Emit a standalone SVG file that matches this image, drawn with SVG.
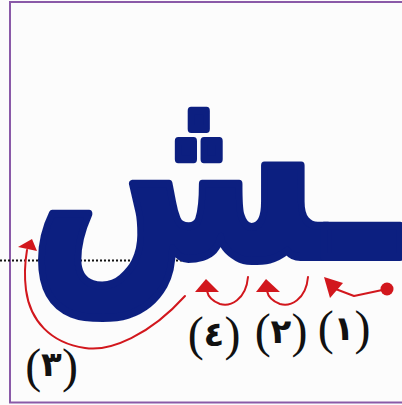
<svg xmlns="http://www.w3.org/2000/svg" width="402" height="405" viewBox="0 0 402 405">
<style>
.arr{fill:none;stroke:#d2171d;stroke-width:2;stroke-linecap:round;stroke-linejoin:round}
.head{fill:#d2171d}
.lbl{font-family:"Liberation Serif","Times New Roman",serif;font-size:48px;fill:#111;text-anchor:middle}
.dg{font-family:"DejaVu Sans",sans-serif;font-size:34px;font-weight:bold}
.letter{font-family:"DejaVu Sans",sans-serif;font-weight:bold;fill:#0c1f80;stroke:#0c1f80;stroke-width:8;stroke-linejoin:round}
</style>
<rect x="0" y="0" width="402" height="405" fill="#fcfcfc"/>
<rect x="10" y="2" width="420" height="400.5" fill="none" stroke="#8a5aa8" stroke-width="2"/>
<line x1="0" y1="260.5" x2="200" y2="260.5" stroke="#111" stroke-width="2" stroke-dasharray="2 2"/>
<g id="letter">
<text class="letter" x="28" y="257" font-size="250" textLength="370" lengthAdjust="spacingAndGlyphs">ـش</text>
</g>
<g id="connectors">
<circle cx="387" cy="289" r="6.5" class="head"/>
<polyline class="arr" points="387,289 354,296 333,288"/>
<polygon class="head" points="324,277 343,283 330,298"/>
<path class="arr" d="M308,277 C306,300 290,307 280,304 C272,301 268,296 267,291"/>
<polygon class="head" points="256,292 266,279 280,292"/>
<path class="arr" d="M248,277 C246,300 230,307 220,304 C212,301 208,296 207,291"/>
<polygon class="head" points="195,292 206,279 219,292"/>
<path class="arr" d="M185,296 C150,335 110,352 85,348 C50,343 30,320 26,290 C24,275 25,262 27,250"/>
<polygon class="head" points="18,247 32,239 37,251"/>
</g>
<g id="labels">
<text class="lbl" x="344" y="344">(<tspan class="dg" dy="-4">١</tspan><tspan dy="4">)</tspan></text>
<text class="lbl" x="281" y="347">(<tspan class="dg" dy="-4">٢</tspan><tspan dy="4">)</tspan></text>
<text class="lbl" x="214" y="350">(<tspan class="dg" dy="-4">٤</tspan><tspan dy="4">)</tspan></text>
<text class="lbl" x="51.5" y="382" font-size="44">(<tspan class="dg" dy="-6">٣</tspan><tspan dy="6">)</tspan></text>
</g>
</svg>
